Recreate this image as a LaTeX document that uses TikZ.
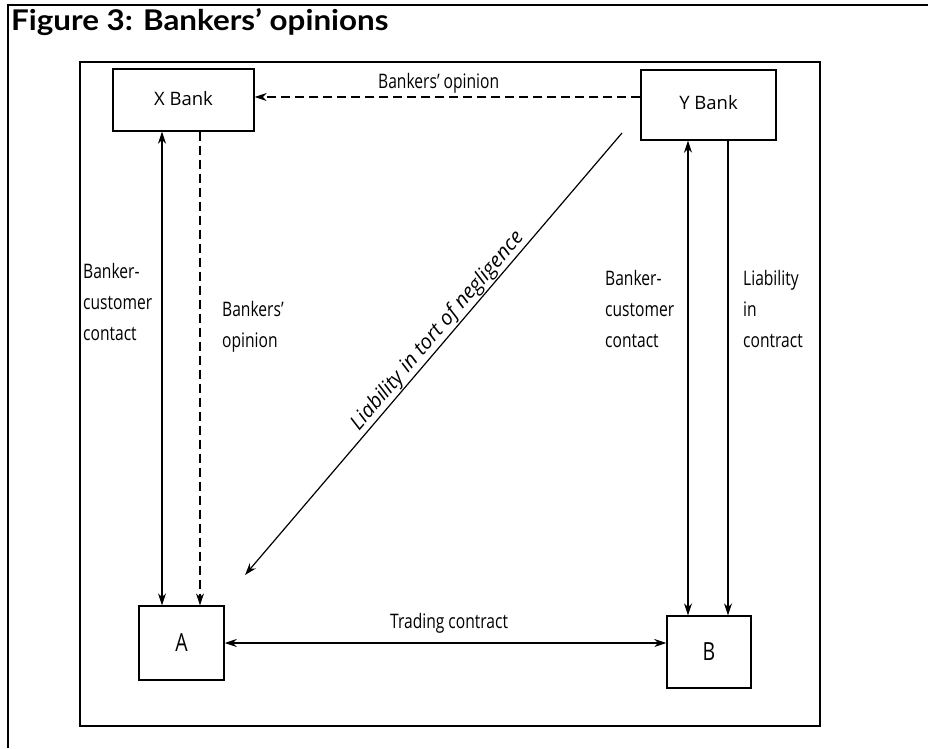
\documentclass[tikz,border=0pt]{standalone}
\usepackage{fontspec}
\setmainfont{Open Sans}
\newfontfamily\cond[FakeStretch=0.78]{Open Sans}
\newfontfamily\titlefont[FakeStretch=1.1]{Lato}
\usetikzlibrary{arrows.meta,calc}
\begin{document}
\begin{tikzpicture}[x=1pt,y=-1pt,
  box/.style={draw,line width=1.4pt,inner sep=0pt,font=\fontsize{18.5}{22}\selectfont},
  pbox/.style={draw,line width=1.4pt,inner sep=0pt,font=\cond\fontsize{25}{28}\selectfont},
  lbl/.style={font=\cond\fontsize{20}{31}\selectfont,align=left,inner sep=0pt,anchor=base west},
  conn/.style={line width=1.1pt},
  arr/.style={-{Stealth[length=12pt,width=8pt]}},
  darr/.style={{Stealth[length=12pt,width=8pt]}-{Stealth[length=12pt,width=8pt]}},
  dsh/.style={dash pattern=on 9pt off 5pt}]
\useasboundingbox (0,0) rectangle (928,748);
% outer frame (top and left only)
\draw[line width=1.3pt] (8,748) -- (8,5) -- (928,5);
\node[anchor=base west,inner sep=0pt,font=\titlefont\bfseries\fontsize{28.5}{30}\selectfont] (title) at (11,30) {Figure 3: Bankers’ opinions};
% inner frame
\draw[line width=1.8pt] (80,62) rectangle (820,726);
% boxes
\node[box,minimum width=141pt,minimum height=62pt] (xb) at (183.5,100) {\raisebox{3pt}{X Bank}};
\node[box,minimum width=135pt,minimum height=70pt] (yb) at (708.5,105) {\raisebox{6pt}{Y Bank}\hspace{24pt}};
\node[pbox,minimum width=85pt,minimum height=74pt] (a) at (181.5,643) {A};
\node[pbox,minimum width=84pt,minimum height=72pt] (b) at (709,652) {B};
% connectors
\draw[conn,darr] ([xshift=-21.5pt]xb.south) -- ([xshift=-19.5pt]a.north);
\draw[conn,arr,dsh] ([xshift=16.5pt]xb.south) -- ([xshift=18.5pt]a.north);
\draw[conn,darr] ([xshift=-20.5pt]yb.south) -- ([xshift=-21pt]b.north);
\draw[conn,arr] ([xshift=19.5pt]yb.south) -- ([xshift=19pt]b.north);
\draw[line width=1.6pt,darr] (a.east) -- (a.east -| b.west);
\coordinate (yw) at ([yshift=8pt]yb.west);
\draw[conn,arr,dsh] (yw) -- (yw -| xb.east);
\coordinate (dt) at (622,133);
\coordinate (de) at (245,575);
\draw[line width=1.2pt,arr] (dt) -- (de)
  node[pos=0.465,sloped,anchor=south,inner sep=1pt,font=\itshape\fontsize{20.5}{24}\selectfont] (neg) {Liability in tort of negligence};
% labels
\node[lbl] (l1) at (83,340) {Banker-\\customer\\contact};
\node[lbl] (l2) at (222,347) {Bankers’\\opinion};
\node[lbl] (l3) at (605,347) {Banker-\\customer\\contact};
\node[lbl] (l4) at (743,347) {Liability\\in\\contract};
\node[lbl] (l5) at (378,88) {Bankers’ opinion};
\node[lbl] (l6) at (390,628) {Trading contract};
\end{tikzpicture}
\end{document}
